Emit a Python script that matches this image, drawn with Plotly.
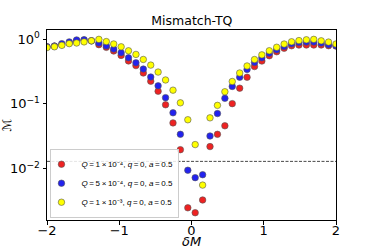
import plotly.graph_objects as go

delta_m = [-2.0, -1.897, -1.795, -1.692, -1.590, -1.487, -1.385, -1.282, -1.179, -1.077,
           -0.974, -0.872, -0.769, -0.667, -0.564, -0.462, -0.359, -0.256, -0.154, -0.051,
           0.051, 0.154, 0.256, 0.359, 0.462, 0.564, 0.667, 0.769, 0.872, 0.974,
           1.077, 1.179, 1.282, 1.385, 1.487, 1.590, 1.692, 1.795, 1.897, 2.0]

mismatch_q1e4 = [0.76, 0.78, 0.82, 0.87, 0.94, 0.96, 0.94, 0.82, 0.745, 0.655,
                 0.56, 0.46, 0.39, 0.30, 0.224, 0.157, 0.097, 0.051, 0.0197, 0.0025,
                 0.0021, 0.0033, 0.022, 0.034, 0.046, 0.101, 0.175, 0.258, 0.377, 0.459,
                 0.553, 0.638, 0.722, 0.789, 0.809, 0.81, 0.81, 0.81, 0.79, 0.78]

mismatch_q5e4 = [0.76, 0.78, 0.85, 0.905, 0.97, 0.98, 0.94, 0.87, 0.785, 0.70,
                 0.615, 0.515, 0.43, 0.345, 0.26, 0.19, 0.125, 0.073, 0.034, 0.0095,
                 0.0073, 0.0081, 0.032, 0.071, 0.122, 0.186, 0.258, 0.34, 0.435, 0.514,
                 0.605, 0.682, 0.767, 0.847, 0.884, 0.90, 0.90, 0.87, 0.82, 0.79]

mismatch_q1e3 = [0.74, 0.76, 0.80, 0.85, 0.87, 0.905, 0.94, 0.99, 0.915, 0.84,
                 0.76, 0.66, 0.58, 0.485, 0.397, 0.31, 0.234, 0.163, 0.104, 0.057,
                 0.0236, 0.0056, 0.061, 0.095, 0.154, 0.222, 0.30, 0.385, 0.484, 0.571,
                 0.661, 0.748, 0.838, 0.909, 0.948, 0.975, 0.99, 0.94, 0.90, 0.84]

threshold = 0.013

ts = "\u2009"
series_names = [
    f"<i>Q</i>{ts}={ts}1{ts}×{ts}10⁻⁴, <i>q</i>{ts}={ts}0, <i>a</i>{ts}={ts}0.5",
    f"<i>Q</i>{ts}={ts}5{ts}×{ts}10⁻⁴, <i>q</i>{ts}={ts}0, <i>a</i>{ts}={ts}0.5",
    f"<i>Q</i>{ts}={ts}1{ts}×{ts}10⁻³, <i>q</i>{ts}={ts}0, <i>a</i>{ts}={ts}0.5",
]
series_values = [mismatch_q1e4, mismatch_q5e4, mismatch_q1e3]
series_colors = ["#ee2222", "#2222ee", "#ffff00"]

x_ticks = [-2, -1, 0, 1, 2]
x_tick_labels = ["−2", "−1", "0", "1", "2"]
y_ticks = [1, 0.1, 0.01]
y_tick_labels = ["10<sup>0</sup>", "10<sup>−1</sup>", "10<sup>−2</sup>"]

fig = go.Figure()
for name, vals, col in zip(series_names, series_values, series_colors):
    fig.add_trace(go.Scatter(
        x=delta_m, y=vals, mode="markers", name=name,
        marker=dict(size=6.5, color=col, line=dict(width=0.6, color="#555555")),
    ))

fig.add_shape(type="line", xref="paper", x0=0, x1=1, yref="y", y0=threshold, y1=threshold,
              line=dict(color="#333333", width=0.9, dash="3px,1.5px"))

font_family = "DejaVu Sans"
fig.add_annotation(text="<i>δM</i>", xref="paper", yref="paper", x=0.5, y=-0.112,
                   xanchor="center", yanchor="middle", showarrow=False,
                   font=dict(size=13, family=font_family, color="black"))

fig.update_layout(
    width=374, height=249,
    margin=dict(l=47, r=38, t=30, b=29, autoexpand=False),
    paper_bgcolor="white", plot_bgcolor="white",
    font=dict(family=font_family, color="black", size=12),
    title=dict(text="Mismatch-TQ", x=0.513, xanchor="center", y=0.918, yanchor="middle",
               font=dict(size=12.5, family=font_family)),
    showlegend=True,
    legend=dict(x=0.012, y=0.012, xanchor="left", yanchor="bottom",
                bgcolor="rgba(255,255,255,0.85)", bordercolor="#cccccc", borderwidth=1,
                font=dict(size=8, family="Liberation Sans"), itemwidth=30,
                indentation=-10, tracegroupgap=0),
    xaxis=dict(range=[-2, 2], tickvals=x_ticks, ticktext=x_tick_labels, automargin=False,
               showgrid=False, zeroline=False, showline=True, linecolor="black", linewidth=1,
               mirror=True, ticks="outside", ticklen=3.5, tickwidth=0.8, tickcolor="black",
               ticklabelstandoff=-5, tickfont=dict(size=13)),
    yaxis=dict(type="log", range=[-2.79, 0.14], tickvals=y_ticks, ticktext=y_tick_labels,
               automargin=False,
               showgrid=False, zeroline=False, showline=True, linecolor="black", linewidth=1,
               mirror=True, ticks="outside", ticklen=3.5, tickwidth=0.8, tickcolor="black",
               tickfont=dict(size=13), title=dict(text="ℳ", font=dict(size=12), standoff=4)),
)

fig.write_html("out.html", post_script="document.body.style.margin='0';",
               config={"displayModeBar": False})
